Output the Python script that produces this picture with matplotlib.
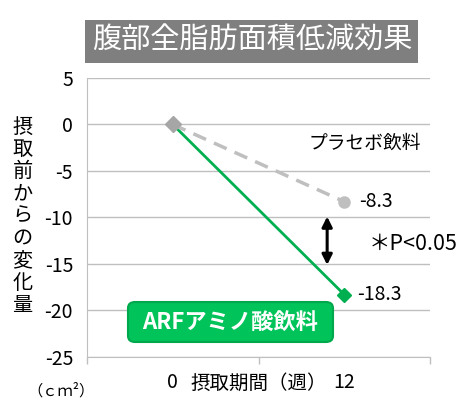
import matplotlib.pyplot as plt
from matplotlib.patches import FancyBboxPatch

plt.rcParams['font.family'] = ['Noto Sans CJK JP', 'DejaVu Sans']

# data
weeks = ['0', '12']
placebo = [0, -8.3]
arf = [0, -18.3]
yticks = [5, 0, -5, -10, -15, -20, -25]
title = '腹部全脂肪面積低減効果'
ylabel = '摂取前からの変化量'
xlabel = '摂取期間（週）'

xpos = [0.5, 1.5]
green = '#00B050'
grid_c = '#BFBFBF'

fig = plt.figure(figsize=(4.69, 4.07), dpi=100)
ax = fig.add_axes([0.1855, 0.1229, 0.917 - 0.1855, 0.8084 - 0.1229])

ax.plot(xpos, arf, color=green, lw=2, zorder=3)
ax.plot(xpos[1], arf[1], marker='D', ms=7, color=green, zorder=4)
ax.plot(xpos, placebo, color='#BFBFBF', lw=2.5, ls=(0, (4, 2.5)), zorder=4)
ax.plot(xpos[0], placebo[0], marker='D', ms=8, color='#A6A6A6', zorder=5)
ax.plot(xpos[1], placebo[1], marker='o', ms=8, color='#BFBFBF', zorder=5)

ax.set_xlim(0, 2)
ax.set_ylim(-25, 5)
ax.set_yticks(yticks)
ax.set_yticklabels([str(v) for v in yticks], fontsize=14)
ax.yaxis.grid(True, color=grid_c, lw=1)
ax.set_axisbelow(True)
ax.tick_params(axis='y', length=0, pad=10)

ax.set_xticks([0, 1, 2])
ax.set_xticklabels(['', '', ''])
ax.set_xticks(xpos, minor=True)
ax.set_xticklabels(weeks, minor=True, fontsize=14)
ax.tick_params(axis='x', which='major', length=5, color=grid_c, width=1)
ax.tick_params(axis='x', which='minor', length=0, pad=11)
ax.text(0.5, -0.093, xlabel, transform=ax.transAxes, ha='center', va='center', fontsize=14)

for s in ['top', 'right']:
    ax.spines[s].set_visible(False)
for s in ['left', 'bottom']:
    ax.spines[s].set_color(grid_c)

# data labels
ax.annotate('-8.3', (xpos[1], placebo[1]), xytext=(11, 0), textcoords='offset points',
            va='center', fontsize=14)
ax.annotate('-18.3', (xpos[1], arf[1]), xytext=(9, 0), textcoords='offset points',
            va='center', fontsize=14)
ax.text(1.95, -2.0, 'プラセボ飲料', ha='right', va='center', fontsize=13.5)

# significance arrow
ax.annotate('', xy=(1.40, -15.4), xytext=(1.40, -9.6),
            arrowprops=dict(arrowstyle='<|-|>', color='black', lw=2.2, mutation_scale=15))
ax.text(1.64, -12.8, '＊P<0.05', ha='left', va='center', fontsize=15.5)

# title box
fig.text(0.537, 0.899, title, ha='center', va='center', fontsize=21, color='white',
         bbox=dict(boxstyle='square,pad=0.22', fc='#7F7F7F', ec='none'))

# ylabel stacked vertically
fig.text(0.048, 0.468, '\n'.join(ylabel), ha='center', va='center', fontsize=14.5,
         linespacing=1.08)
fig.text(0.13, 0.04, '（ｃｍ²）', ha='center', va='center', fontsize=11)

# green label box
box = FancyBboxPatch((128 / 469, 1 - 342 / 407), 205 / 469, 40 / 407,
                     boxstyle='round,pad=0,rounding_size=0.015', transform=fig.transFigure,
                     fc='#00C35A', ec='#00A84D', lw=1.5, zorder=6)
fig.patches.append(box)
fig.text(230 / 469, 1 - 322 / 407, 'ARFアミノ酸飲料', ha='center', va='center',
         fontsize=16, color='white', fontweight='bold', zorder=7)

fig.savefig('out.png', dpi=100)
